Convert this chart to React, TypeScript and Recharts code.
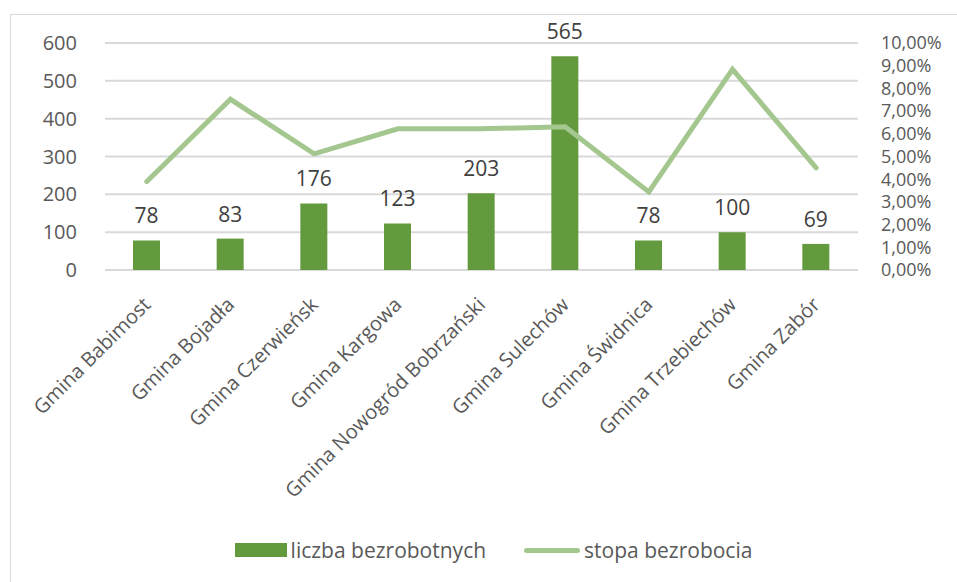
import { ComposedChart, Bar, Line, XAxis, YAxis, CartesianGrid, Legend, LabelList } from "recharts"

const gminy = [
    "Gmina Babimost",
    "Gmina Bojadła",
    "Gmina Czerwieńsk",
    "Gmina Kargowa",
    "Gmina Nowogród Bobrzański",
    "Gmina Sulechów",
    "Gmina Świdnica",
    "Gmina Trzebiechów",
    "Gmina Zabór",
]
const liczbaBezrobotnych = [78, 83, 176, 123, 203, 565, 78, 100, 69]
const stopaBezrobocia = [0.039, 0.0752, 0.0512, 0.0622, 0.0622, 0.0631, 0.0344, 0.0884, 0.045]
const leftTicks = [0, 100, 200, 300, 400, 500, 600]
const rightTicks = [0, 0.01, 0.02, 0.03, 0.04, 0.05, 0.06, 0.07, 0.08, 0.09, 0.1]

const data = gminy.map((name, i) => ({
    name,
    liczba: liczbaBezrobotnych[i],
    stopa: stopaBezrobocia[i],
}))

const FONT = "'Open Sans', sans-serif"
const BAR_COLOR = "#629a3d"
const LINE_COLOR = "#a3c78e"
const TEXT_COLOR = "#595959"

const pct = (v: number) => (v * 100).toFixed(2).replace(".", ",") + "%"

const XTick = ({ x, y, payload }: any) => (
    <g transform={`translate(${x + 5},${y + 28})`}>
        <text transform="rotate(-45)" textAnchor="end" fill={TEXT_COLOR} fontSize={20} fontFamily={FONT}>
            {payload.value}
        </text>
    </g>
)

const LegendContent = () => (
    <div style={{ display: "flex", justifyContent: "center", alignItems: "center", fontFamily: FONT, fontSize: 21, color: TEXT_COLOR, paddingLeft: 30 }}>
        <span style={{ display: "inline-block", width: 52, height: 14, background: BAR_COLOR, marginRight: 4 }} />
        <span>liczba bezrobotnych</span>
        <span style={{ display: "inline-block", width: 56, height: 5, borderRadius: 3, background: LINE_COLOR, marginLeft: 38, marginRight: 4 }} />
        <span>stopa bezrobocia</span>
    </div>
)

export default function App() {
    return (
        <div style={{ position: "absolute", left: 0, top: 0, width: 957, height: 582, background: "#fff", overflow: "hidden" }}>
            <div style={{ position: "absolute", left: 10, top: 14, width: 960, height: 600, border: "1.5px solid #d9d9d9" }} />
            <ComposedChart width={957} height={582} data={data} margin={{ top: 43, right: 9, left: 45, bottom: 0 }}>
                <CartesianGrid vertical={false} stroke="#d9d9d9" strokeWidth={2} yAxisId="left" />
                <XAxis dataKey="name" tick={<XTick />} tickLine={false} axisLine={false} interval={0} height={284} />
                <YAxis
                    yAxisId="left"
                    width={60}
                    domain={[0, 600]}
                    ticks={leftTicks}
                    axisLine={false}
                    tickLine={false}
                    tick={{ fill: TEXT_COLOR, fontSize: 20, fontFamily: FONT }}
                    tickMargin={22}
                />
                <YAxis
                    yAxisId="right"
                    orientation="right"
                    width={90}
                    domain={[0, 0.1]}
                    ticks={rightTicks}
                    interval={0}
                    axisLine={false}
                    tickLine={false}
                    tickFormatter={pct}
                    tick={{ fill: TEXT_COLOR, fontSize: 18, fontFamily: FONT, textAnchor: "start" }}
                    tickMargin={17}
                />
                <Legend content={<LegendContent />} wrapperStyle={{ position: "absolute", top: 536, left: 0, width: 957 }} />
                <Bar yAxisId="left" dataKey="liczba" name="liczba bezrobotnych" fill={BAR_COLOR} barSize={27} isAnimationActive={false}>
                    <LabelList dataKey="liczba" position="top" offset={17} fill="#404040" fontSize={21} fontFamily={FONT} />
                </Bar>
                <Line
                    yAxisId="right"
                    dataKey="stopa"
                    name="stopa bezrobocia"
                    stroke={LINE_COLOR}
                    strokeWidth={5}
                    strokeLinecap="round"
                    dot={false}
                    isAnimationActive={false}
                />
            </ComposedChart>
        </div>
    )
}
